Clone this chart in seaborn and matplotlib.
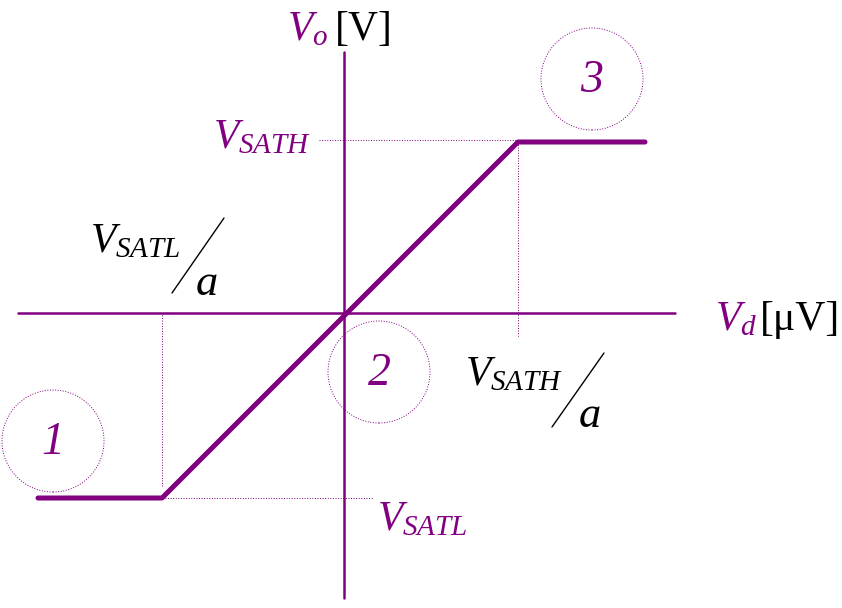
import pandas as pd
import matplotlib.pyplot as plt
import seaborn as sns
from matplotlib.patches import Circle

# transfer characteristic (arbitrary units, origin at axes crossing)
vd = [-306, -182, 174, 301]
vo = [-185, -185, 171, 171]
v_sath = 171
v_satl = -185
vd_sath = 174
vd_satl = -182

# region markers
region_labels = ['1', '2', '3']
region_x = [-291, 35, 248]
region_y = [-128, -59, 234]

sns.set_style('white')
plt.rcParams['font.family'] = ['Liberation Serif', 'DejaVu Serif']
plt.rcParams['mathtext.fontset'] = 'custom'
plt.rcParams['mathtext.rm'] = 'Liberation Serif'
plt.rcParams['mathtext.it'] = 'Liberation Serif:italic'

purple = '#800080'
fs = 30

fig = plt.figure(figsize=(8.42, 6.08), dpi=100)
ax = fig.add_axes([0, 0, 1, 1])
ax.set_xlim(-344, 498)
ax.set_ylim(-295, 313)
ax.axis('off')

# axes
ax.plot([-326, 331], [0, 0], color=purple, lw=1.8)
ax.plot([0, 0], [-285, 261], color=purple, lw=1.8)

# curve
df = pd.DataFrame({'Vd': vd, 'Vo': vo})
sns.lineplot(data=df, x='Vd', y='Vo', color=purple, lw=3.6, sort=False, ax=ax)
ax.set_xlabel('')
ax.set_ylabel('')

# dotted guides
ax.plot([vd_satl, vd_satl], [-2, v_satl + 11], color=purple, lw=0.7, ls=':')
ax.plot([vd_satl + 3, 29], [v_satl, v_satl], color=purple, lw=0.7, ls=':')
ax.plot([-25, vd_sath], [v_sath + 2, v_sath + 2], color=purple, lw=0.7, ls=':')
ax.plot([vd_sath, vd_sath], [v_sath, -24], color=purple, lw=0.7, ls=':')

# region circles
for lab, cx, cy in zip(region_labels, region_x, region_y):
    ax.add_patch(Circle((cx, cy), 51, fill=False, ec=purple, lw=0.7, ls=':'))
    ax.text(cx, cy - 2, lab, color=purple, fontsize=33, style='italic',
            ha='center', va='center')

# axis labels
ax.text(-57, 273, r'$V_o$', color=purple, fontsize=fs, va='baseline')
ax.text(-9, 273, '[V]', color='black', fontsize=fs, va='baseline')
ax.text(371, -17, r'$V_d$', color=purple, fontsize=fs, va='baseline')
ax.text(416, -17, '[\u03bcV]', color='black', fontsize=fs, va='baseline')

# saturation levels
ax.text(-131, 165, r'$V_{SATH}$', color=purple, fontsize=fs, va='baseline')
ax.text(33, -217, r'$V_{SATL}$', color=purple, fontsize=fs, va='baseline')

# knee points
ax.text(-254, 61, r'$V_{SATL}$', color='black', fontsize=fs, va='baseline')
ax.plot([-172, -120], [20, 95], color='black', lw=1)
ax.text(-149, 18, r'$a$', color='black', fontsize=fs + 2, va='baseline')

ax.text(121, -72, r'$V_{SATH}$', color='black', fontsize=fs, va='baseline')
ax.plot([208, 260], [-114, -40], color='black', lw=1)
ax.text(234, -114, r'$a$', color='black', fontsize=fs + 2, va='baseline')

plt.savefig('out.png', dpi=100)
